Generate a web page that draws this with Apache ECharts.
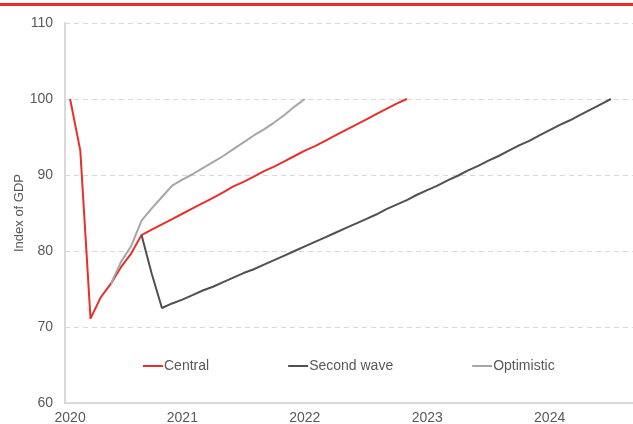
<!DOCTYPE html>
<html>
<head>
<meta charset="utf-8">
<script src="https://cdn.jsdelivr.net/npm/echarts@6/dist/echarts.min.js"></script>
<style>
  html, body { margin: 0; padding: 0; background: #ffffff; }
  #chart { width: 633px; height: 424px; }
</style>
</head>
<body>
<div id="chart"></div>
<script>
// Monthly periods, February 2020 to December 2024
const months = [
  '2020-02','2020-03','2020-04','2020-05','2020-06','2020-07','2020-08','2020-09','2020-10','2020-11','2020-12',
  '2021-01','2021-02','2021-03','2021-04','2021-05','2021-06','2021-07','2021-08','2021-09','2021-10','2021-11','2021-12',
  '2022-01','2022-02','2022-03','2022-04','2022-05','2022-06','2022-07','2022-08','2022-09','2022-10','2022-11','2022-12',
  '2023-01','2023-02','2023-03','2023-04','2023-05','2023-06','2023-07','2023-08','2023-09','2023-10','2023-11','2023-12',
  '2024-01','2024-02','2024-03','2024-04','2024-05','2024-06','2024-07','2024-08','2024-09','2024-10','2024-11','2024-12'
];

// Index of GDP, Feb 2020 = 100
const central = [
  100, 93.2, 71.1, 73.9, 75.7, 77.9, 79.7, 82.1, 82.8, 83.5, 84.2,
  84.9, 85.6, 86.3, 87.0, 87.7, 88.5, 89.1, 89.8, 90.5, 91.1, 91.8, 92.5,
  93.2, 93.8, 94.5, 95.2, 95.9, 96.6, 97.3, 98.0, 98.7, 99.4, 100.0
];

const secondWave = [
  null, null, null, null, null, null, null, 82.1, 77.0, 72.5, 73.1,
  73.6, 74.2, 74.8, 75.3, 75.9, 76.5, 77.1, 77.6, 78.2, 78.8, 79.4, 80.0,
  80.6, 81.2, 81.8, 82.4, 83.0, 83.6, 84.2, 84.8, 85.5, 86.1, 86.7, 87.4,
  88.0, 88.6, 89.3, 89.9, 90.6, 91.2, 91.9, 92.5, 93.2, 93.9, 94.5, 95.2,
  95.9, 96.6, 97.2, 97.9, 98.6, 99.3, 100.0
];

const optimistic = [
  null, null, null, null, 75.7, 78.6, 80.7, 84.0, 85.6, 87.1, 88.6,
  89.4, 90.1, 90.9, 91.7, 92.5, 93.4, 94.3, 95.2, 96.0, 96.9, 97.9, 99.0,
  100.0
];

const yTicks = { min: 60, max: 110, step: 10 };

const textColor = '#595959';
const gridColor = '#d9d9d9';

const chart = echarts.init(document.getElementById('chart'), null, { renderer: 'canvas' });

function lineSeries(name, data, color) {
  return {
    name: name,
    type: 'line',
    data: data,
    symbol: 'none',
    connectNulls: false,
    lineStyle: { color: color, width: 2 },
    itemStyle: { color: color },
    emphasis: { disabled: true },
    animation: false
  };
}

chart.setOption({
  animation: false,
  textStyle: { fontFamily: 'Liberation Sans, Arial, sans-serif' },
  graphic: [
    {
      type: 'rect',
      shape: { x: 0, y: 3, width: 633, height: 3 },
      style: { fill: '#e8302a' },
      silent: true
    }
  ],
  grid: {
    left: 65,
    top: 23,
    bottom: 21,
    right: -34,
    outerBoundsMode: 'none'
  },
  legend: {
    left: 138,
    top: 354,
    itemWidth: 20,
    itemHeight: 14,
    itemGap: 79,
    icon: 'path://M0,6 L20,6 L20,8 L0,8 Z',
    textStyle: {
      color: textColor,
      fontSize: 14,
      fontFamily: 'Liberation Sans, Arial, sans-serif',
      padding: [0, 0, 0, -4]
    },
    selectedMode: false,
    data: ['Central', 'Second wave', 'Optimistic']
  },
  xAxis: {
    type: 'category',
    data: months,
    boundaryGap: true,
    axisLine: { show: true, lineStyle: { color: gridColor, width: 2 } },
    axisTick: { show: false },
    axisLabel: {
      color: textColor,
      fontSize: 14,
      margin: 8,
      interval: function (idx, val) { return idx === 0 || val.slice(5) === '01'; },
      formatter: function (val) { return val.slice(0, 4); }
    },
    splitLine: { show: false }
  },
  yAxis: {
    type: 'value',
    min: yTicks.min,
    max: yTicks.max,
    interval: yTicks.step,
    name: 'Index of GDP',
    nameLocation: 'middle',
    nameRotate: 90,
    nameGap: 39,
    nameMoveOverlap: false,
    nameTextStyle: { color: textColor, fontSize: 13 },
    axisLine: { show: true, lineStyle: { color: gridColor, width: 2 } },
    axisTick: { show: false },
    axisLabel: { color: textColor, fontSize: 14, margin: 12 },
    splitLine: { show: true, lineStyle: { color: gridColor, width: 1, type: [5, 4] } }
  },
  series: [
    lineSeries('Central', central, '#e8302a'),
    lineSeries('Second wave', secondWave, '#505050'),
    lineSeries('Optimistic', optimistic, '#a6a6a6')
  ]
});
</script>
</body>
</html>
